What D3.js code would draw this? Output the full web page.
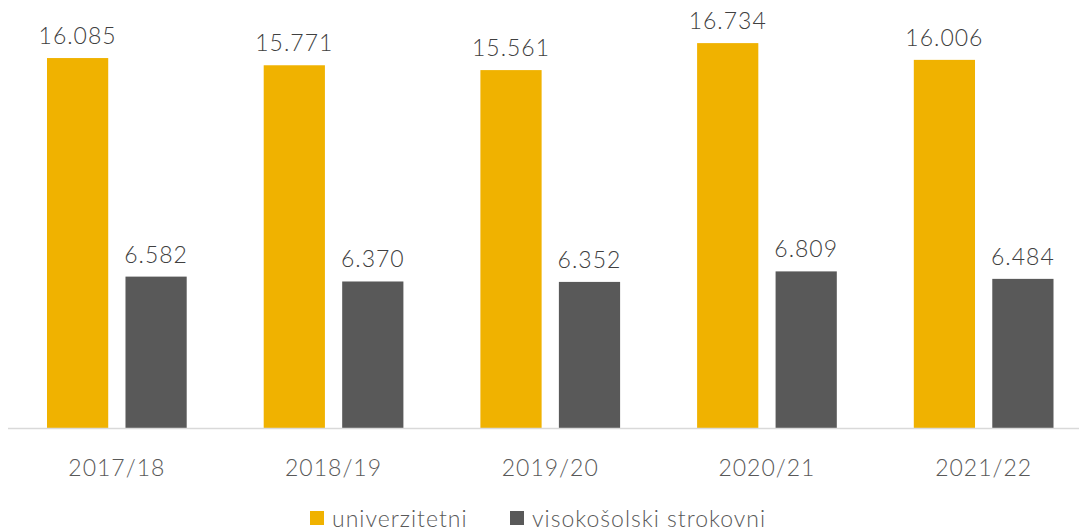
<!DOCTYPE html>
<html>
<head>
<meta charset="utf-8">
<script src="https://cdn.jsdelivr.net/npm/d3@7"></script>
<style>
  body { margin: 0; background: #fff; }
  svg { display: block; font-family: Lato, "Open Sans", sans-serif; font-weight: 300; letter-spacing: 1px; }
</style>
</head>
<body>
<svg width="1079" height="531"></svg>
<script>
const years = ["2017/18", "2018/19", "2019/20", "2020/21", "2021/22"];
const series = ["univerzitetni", "visokošolski strokovni"];
const univerzitetni = [16085, 15771, 15561, 16734, 16006];
const strokovni = [6582, 6370, 6352, 6809, 6484];
const colors = ["#F0B200", "#595959"];

const svg = d3.select("svg");
const baseY = 428;

const x = d3.scaleBand().domain(years).range([8.5, 1092]).paddingInner(0).paddingOuter(0);
const xs = d3.scaleBand().domain(series).range([38.5, x.bandwidth() - 38.5]).paddingInner(0.22);
const y = d3.scaleLinear().domain([0, 18000]).range([baseY, 14]);

// period with thousands separator, like "16.085"
const fmt = d3.formatLocale({ decimal: ",", thousands: ".", grouping: [3], currency: ["", " €"] }).format(",d");

const rows = years.map((yr, i) => ({ year: yr, vals: [univerzitetni[i], strokovni[i]] }));

const g = svg.selectAll("g.grp").data(rows).join("g")
  .attr("class", "grp")
  .attr("transform", d => `translate(${x(d.year)},0)`);

const cells = g.selectAll("g.bar").data(d => d.vals.map((v, j) => ({ s: series[j], v, j }))).join("g");

cells.append("rect")
  .attr("x", d => xs(d.s))
  .attr("width", xs.bandwidth())
  .attr("y", d => y(d.v))
  .attr("height", d => baseY - y(d.v))
  .attr("fill", d => colors[d.j]);

cells.append("text")
  .attr("x", d => xs(d.s) + xs.bandwidth() / 2)
  .attr("y", d => y(d.v) - 14)
  .attr("text-anchor", "middle")
  .attr("font-size", 23)
  .attr("fill", "#404040")
  .text(d => fmt(d.v));

// x axis
svg.append("line")
  .attr("x1", 8).attr("x2", 1079)
  .attr("y1", baseY + 0.5).attr("y2", baseY + 0.5)
  .attr("stroke", "#d9d9d9").attr("stroke-width", 1.5);

svg.selectAll("text.tick").data(years).join("text")
  .attr("class", "tick")
  .attr("x", d => x(d) + x.bandwidth() / 2)
  .attr("y", 476)
  .attr("text-anchor", "middle")
  .attr("font-size", 23)
  .attr("fill", "#595959")
  .text(d => d);

// legend
const leg = [{ x: 310, tx: 332 }, { x: 510, tx: 532 }];
series.forEach((s, i) => {
  svg.append("rect").attr("x", leg[i].x).attr("y", 511).attr("width", 14).attr("height", 14).attr("fill", colors[i]);
  svg.append("text").attr("x", leg[i].tx).attr("y", 527).attr("font-size", 23).attr("fill", "#595959").text(s);
});
</script>
</body>
</html>
